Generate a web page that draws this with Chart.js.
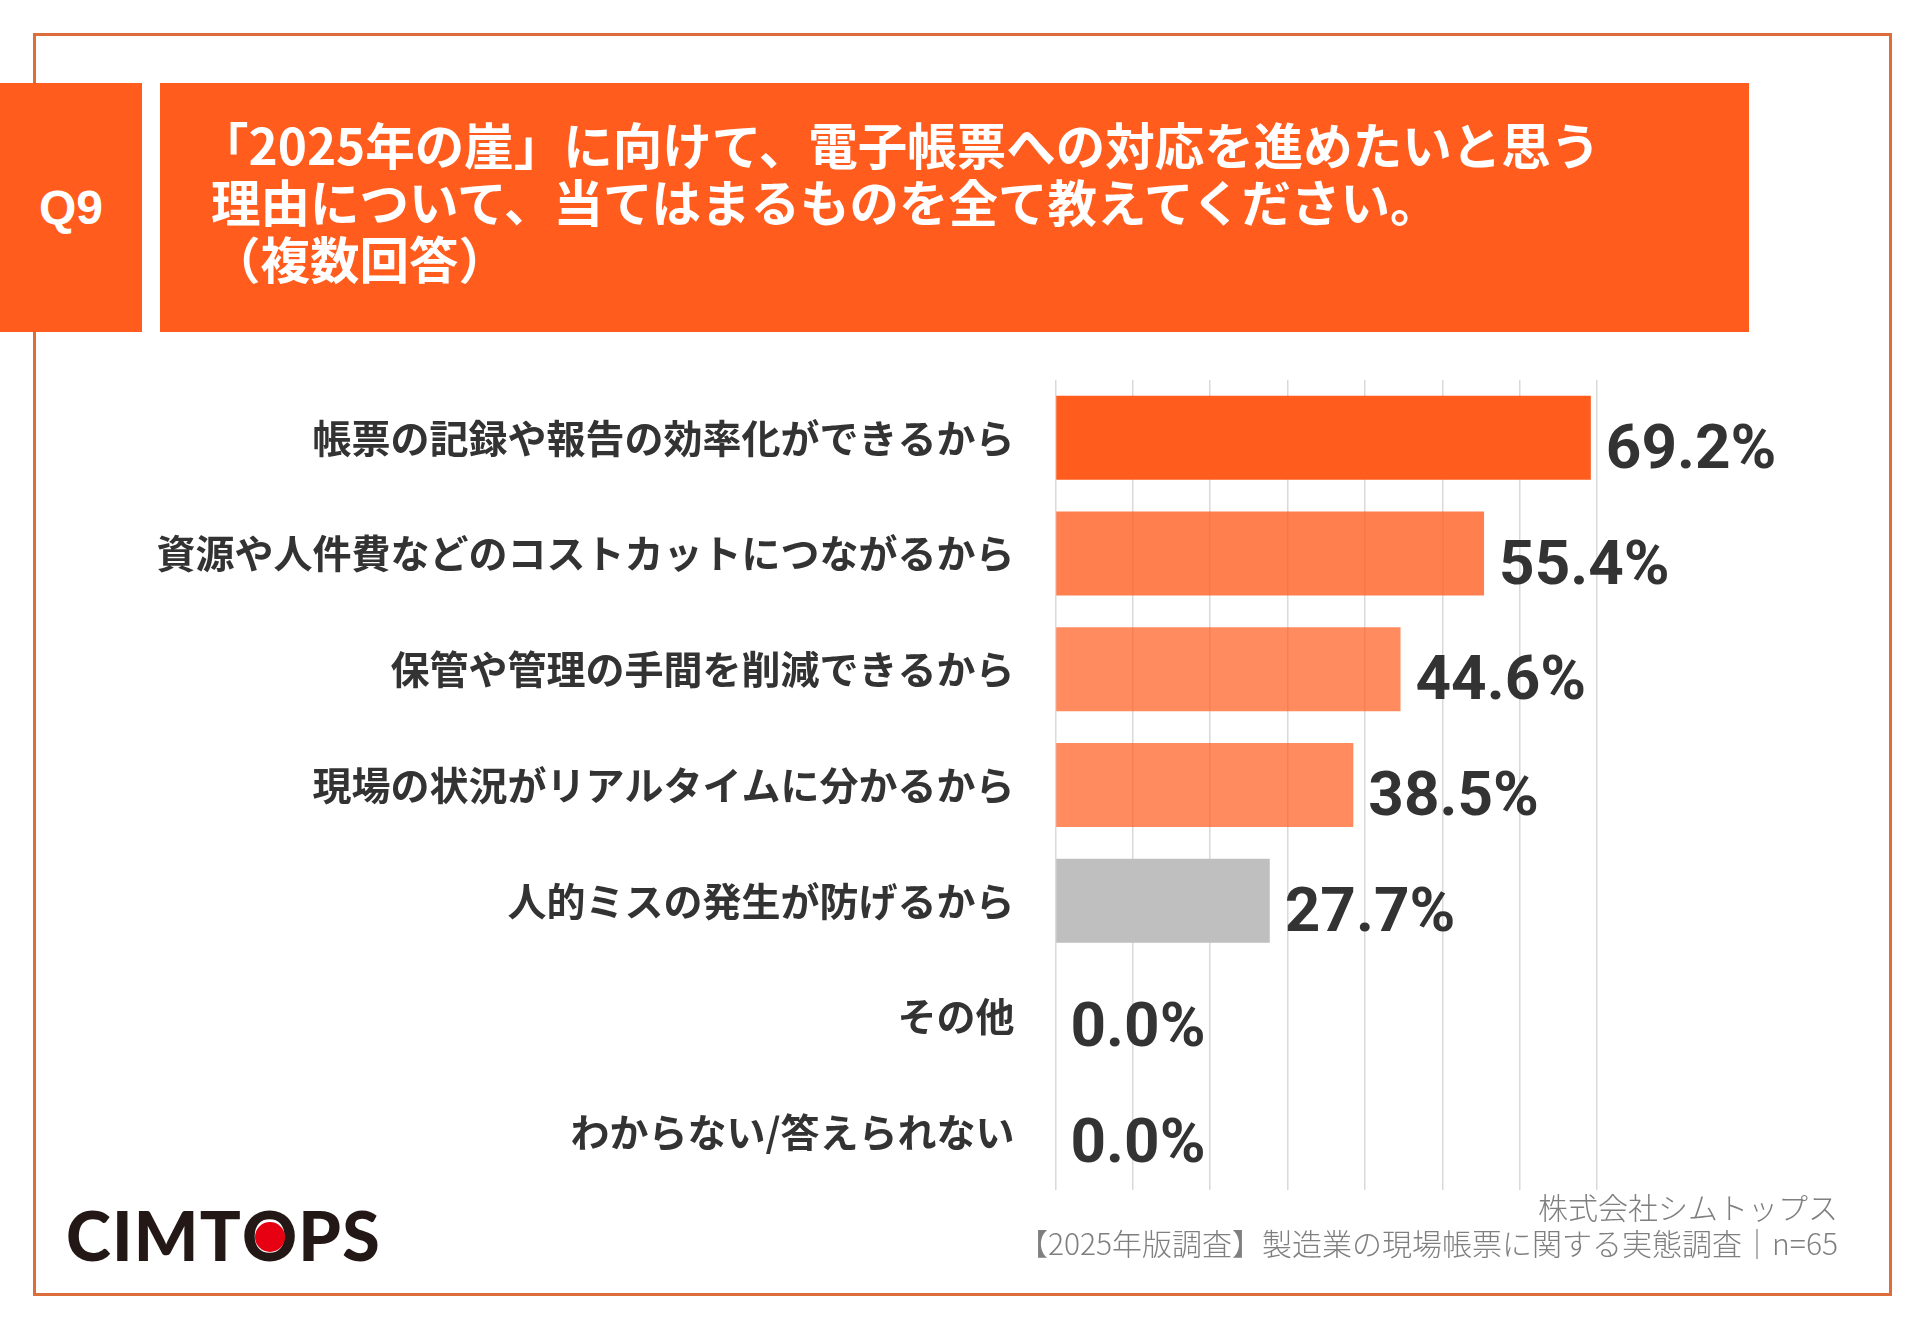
<!DOCTYPE html>
<html lang="ja">
<head>
<meta charset="utf-8">
<script src="https://cdn.jsdelivr.net/npm/chart.js@4.4.1/dist/chart.umd.min.js"></script>
<style>
  html, body { margin:0; padding:0; background:#ffffff; }
  body { width:1920px; height:1329px; position:relative; overflow:hidden; font-family:"Noto Sans CJK JP", "Noto Sans", sans-serif; }
  #frame { position:absolute; left:33px; top:33px; width:1859px; height:1263px; border:3px solid #DC6E3C; box-sizing:border-box; }
  #qbox { position:absolute; left:0; top:83px; width:142px; height:249px; background:#FF5C1E; color:#fff;
          font-family:"Liberation Sans", Arial, sans-serif; font-weight:700; font-size:48px; line-height:249px; text-align:center; }
  #tbox { position:absolute; left:160px; top:83px; width:1589px; height:249px; background:#FF5C1E; }
  #title { position:absolute; left:211px; top:115px; color:#fff; font-weight:700; font-size:49.5px; line-height:57px; white-space:nowrap; }
  #title .l1 { margin-left:-12px; }
  #chartWrap { position:absolute; left:100px; top:380px; width:1780px; height:810px; }
  #logo { position:absolute; left:66px; top:1201px; font-family:Lato, sans-serif; font-weight:900; font-size:68px; line-height:68px; letter-spacing:1.2px; color:#231815; white-space:nowrap; }
  #logo .o { position:relative; display:inline-block; }
  #logo .o::after { content:''; position:absolute; left:50%; top:21px; width:30px; height:30px; margin-left:-15.6px; border-radius:50%; background:#E60012; }
  #foot { position:absolute; right:82px; top:1188px; text-align:right; color:#7F7F7F; font-size:30px; line-height:36px; font-weight:300; white-space:nowrap; }
</style>
</head>
<body>
<div id="frame"></div>
<div id="qbox">Q9</div>
<div id="tbox"></div>
<div id="title"><span class="l1">「2025年の崖」に向けて、電子帳票への対応を進めたいと思う</span><br>理由について、当てはまるものを全て教えてください。<br>（複数回答）</div>
<div id="chartWrap"><canvas id="c"></canvas></div>
<div id="logo">CIMT<span class="o">O</span>PS</div>
<div id="foot">株式会社シムトップス<br>【2025年版調査】製造業の現場帳票に関する実態調査｜n=65</div>
<script>
const categories = [
  "帳票の記録や報告の効率化ができるから",
  "資源や人件費などのコストカットにつながるから",
  "保管や管理の手間を削減できるから",
  "現場の状況がリアルタイムに分かるから",
  "人的ミスの発生が防げるから",
  "その他",
  "わからない/答えられない"
];
const percentValues = [69.2, 55.4, 44.6, 38.5, 27.7, 0.0, 0.0];
const barColors = [
  "#FF5C1E",
  "rgba(255,92,30,0.79)",
  "rgba(255,92,30,0.71)",
  "rgba(255,92,30,0.71)",
  "#BFBFBF",
  "#BFBFBF",
  "#BFBFBF"
];
const axisMin = 0, axisMax = 70, axisStep = 10;

const valueLabels = {
  id: 'valueLabels',
  afterDatasetsDraw(chart) {
    const ctx = chart.ctx;
    const meta = chart.getDatasetMeta(0);
    ctx.save();
    ctx.font = '700 62px Roboto, "Liberation Sans", sans-serif';
    ctx.fillStyle = '#333333';
    ctx.textAlign = 'left';
    ctx.textBaseline = 'alphabetic';
    meta.data.forEach((bar, i) => {
      const v = chart.data.datasets[0].data[i];
      ctx.fillText(v.toFixed(1) + '%', bar.x + 15, bar.y + 30);
    });
    ctx.restore();
  }
};

new Chart(document.getElementById('c'), {
  type: 'bar',
  data: {
    labels: categories,
    datasets: [{
      data: percentValues,
      backgroundColor: barColors,
      borderWidth: 0,
      categoryPercentage: 1,
      barPercentage: 0.726
    }]
  },
  options: {
    indexAxis: 'y',
    responsive: true,
    maintainAspectRatio: false,
    devicePixelRatio: 1,
    animation: false,
    layout: { padding: { left: 0, right: 283, top: 0, bottom: 0 } },
    plugins: { legend: { display: false }, tooltip: { enabled: false } },
    scales: {
      x: {
        min: axisMin, max: axisMax,
        ticks: { display: false, stepSize: axisStep },
        grid: { color: '#D9D9D9', lineWidth: 1.5, drawTicks: false },
        border: { display: false },
        afterFit(scale) { scale.height = 0; scale.paddingLeft = 0; scale.paddingRight = 0; }
      },
      y: {
        ticks: {
          color: '#333333',
          font: { family: '"Noto Sans CJK JP", "Noto Sans", sans-serif', size: 39, weight: '700' },
          padding: 41
        },
        grid: { display: false, drawTicks: false },
        border: { display: false },
        afterFit(scale) { scale.width = 955.5; scale.paddingTop = 0; scale.paddingBottom = 0; }
      }
    }
  },
  plugins: [valueLabels]
});
</script>
</body>
</html>
